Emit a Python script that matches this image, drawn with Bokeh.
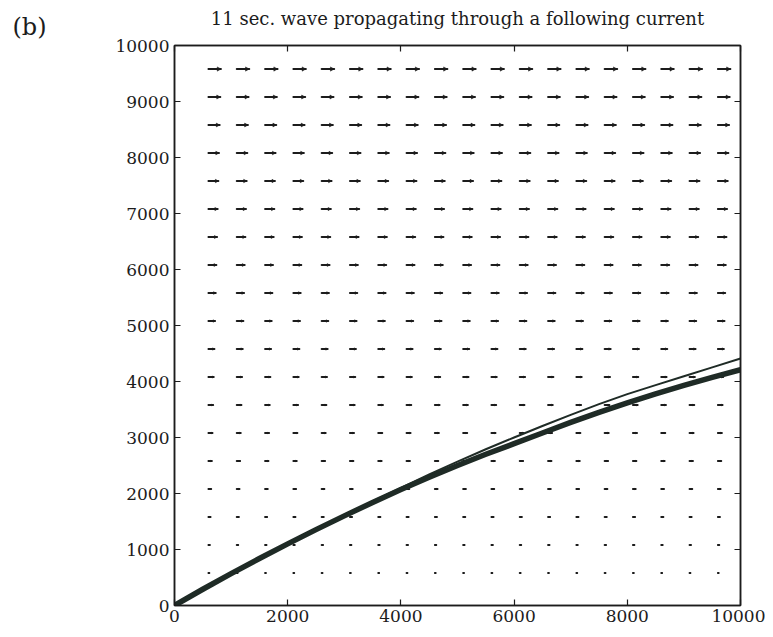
import numpy as np
from bokeh.plotting import figure
from bokeh.models import LinearAxis, FixedTicker, Title, ColumnDataSource
from bokeh.embed import file_html
from bokeh.resources import INLINE

# ---- data ----
title_text = "11 sec. wave propagating through a following current"
panel_label = "(b)"

x_ticks = [0, 2000, 4000, 6000, 8000, 10000]
y_ticks = [0, 1000, 2000, 3000, 4000, 5000, 6000, 7000, 8000, 9000, 10000]

# current-field grid (arrow tails)
grid_x = [600, 1100, 1600, 2100, 2600, 3100, 3600, 4100, 4600, 5100,
          5600, 6100, 6600, 7100, 7600, 8100, 8600, 9100, 9600]
grid_y = [580, 1080, 1580, 2080, 2580, 3080, 3580, 4080, 4580, 5080,
          5580, 6080, 6580, 7080, 7580, 8080, 8580, 9080, 9580]
# arrow length (current strength) per row, in axis units
arrow_len = [15, 25, 37, 48, 60, 71, 83, 94, 106, 117,
             129, 140, 152, 163, 175, 186, 198, 209, 221]

# wave rays
ray_thick_x = [0, 500, 1000, 1500, 2000, 2500, 3000, 3500, 4000, 4500, 5000,
               5500, 6000, 6500, 7000, 7500, 8000, 8500, 9000, 9500, 10000]
ray_thick_y = [0, 290, 570, 840, 1100, 1355, 1600, 1840, 2070, 2290, 2500,
               2700, 2890, 3080, 3270, 3450, 3620, 3780, 3930, 4075, 4210]
ray_thin_x = [0, 500, 1000, 1500, 2000, 2500, 3000, 3500, 4000, 4500, 5000,
              5500, 6000, 6500, 7000, 7500, 8000, 8500, 9000, 9500, 10000]
ray_thin_y = [0, 290, 572, 845, 1106, 1362, 1612, 1860, 2102, 2340, 2570,
              2790, 3000, 3205, 3405, 3595, 3775, 3935, 4095, 4252, 4410]

# ---- figure ----
INK = "#1c1c1c"
LINE = "#1f2b26"
FONT = "DejaVu Serif"

p = figure(width=765, height=629, x_range=(0, 10000), y_range=(0, 10000),
           output_backend="svg", toolbar_location=None,
           min_border_left=174, min_border_right=25,
           min_border_top=45, min_border_bottom=24,
           background_fill_color="white", border_fill_color="white")
p.outline_line_color = INK
p.outline_line_width = 1.5
p.xgrid.visible = False
p.ygrid.visible = False

# main title (outermost)
p.title.text = title_text
p.title.align = "center"
p.title.text_font = FONT
p.title.text_font_size = "18px"
p.title.text_font_style = "normal"
p.title.text_color = INK
p.title.standoff = -45

def style_axis(ax, ticks, show_labels):
    ax.ticker = FixedTicker(ticks=ticks)
    ax.axis_line_color = INK
    ax.axis_line_width = 1.5
    ax.major_tick_line_color = INK
    ax.major_tick_line_width = 1.2
    ax.major_tick_in = 6
    ax.major_tick_out = 0
    ax.minor_tick_line_color = None
    ax.major_label_text_font = FONT
    ax.major_label_text_color = INK
    ax.major_label_text_font_size = "17px"
    if show_labels:
        ax.major_label_standoff = 5
    else:
        ax.major_label_overrides = {t: "" for t in ticks}
        ax.major_label_standoff = 0

style_axis(p.xaxis[0], x_ticks, True)
style_axis(p.yaxis[0], y_ticks, True)
p.xaxis[0].major_label_standoff = 4
top_ax = LinearAxis()
right_ax = LinearAxis()
style_axis(top_ax, x_ticks, False)
style_axis(right_ax, y_ticks, False)
p.add_layout(top_ax, "above")
p.add_layout(right_ax, "right")

# panel label "(b)" at the top-left corner
b_title = Title(text=panel_label, align="left", offset=-162,
                text_font=FONT, text_font_size="24px",
                text_font_style="normal", text_color=INK, standoff=9)
p.add_layout(b_title, "above")

# ---- current arrows ----
xs, ys, ls = [], [], []
for gy, L in zip(grid_y, arrow_len):
    for gx in grid_x:
        xs.append(gx)
        ys.append(gy)
        ls.append(L)
xs = np.array(xs, float); ys = np.array(ys, float); ls = np.array(ls, float)
px_per_unit = 566 / 10000.0
src = ColumnDataSource(dict(x0=xs, y0=ys, x1=xs + ls, y1=ys,
                            hx=xs + 0.8 * ls,
                            hs=0.5 + 0.3 * ls * px_per_unit))
p.segment(x0="x0", y0="y0", x1="x1", y1="y1", source=src,
          line_color=INK, line_width=2, line_cap="round")
p.scatter(x="hx", y="y0", size="hs", marker="triangle", angle=-np.pi / 2,
          source=src, fill_color=INK, line_color=INK, line_width=0.5)

# ---- rays ----
p.line(ray_thick_x, ray_thick_y, line_color=LINE, line_width=5.5,
       line_join="round")
p.line(ray_thin_x, ray_thin_y, line_color=LINE, line_width=2,
       line_join="round")

open("out.html", "w").write(file_html(p, INLINE))
